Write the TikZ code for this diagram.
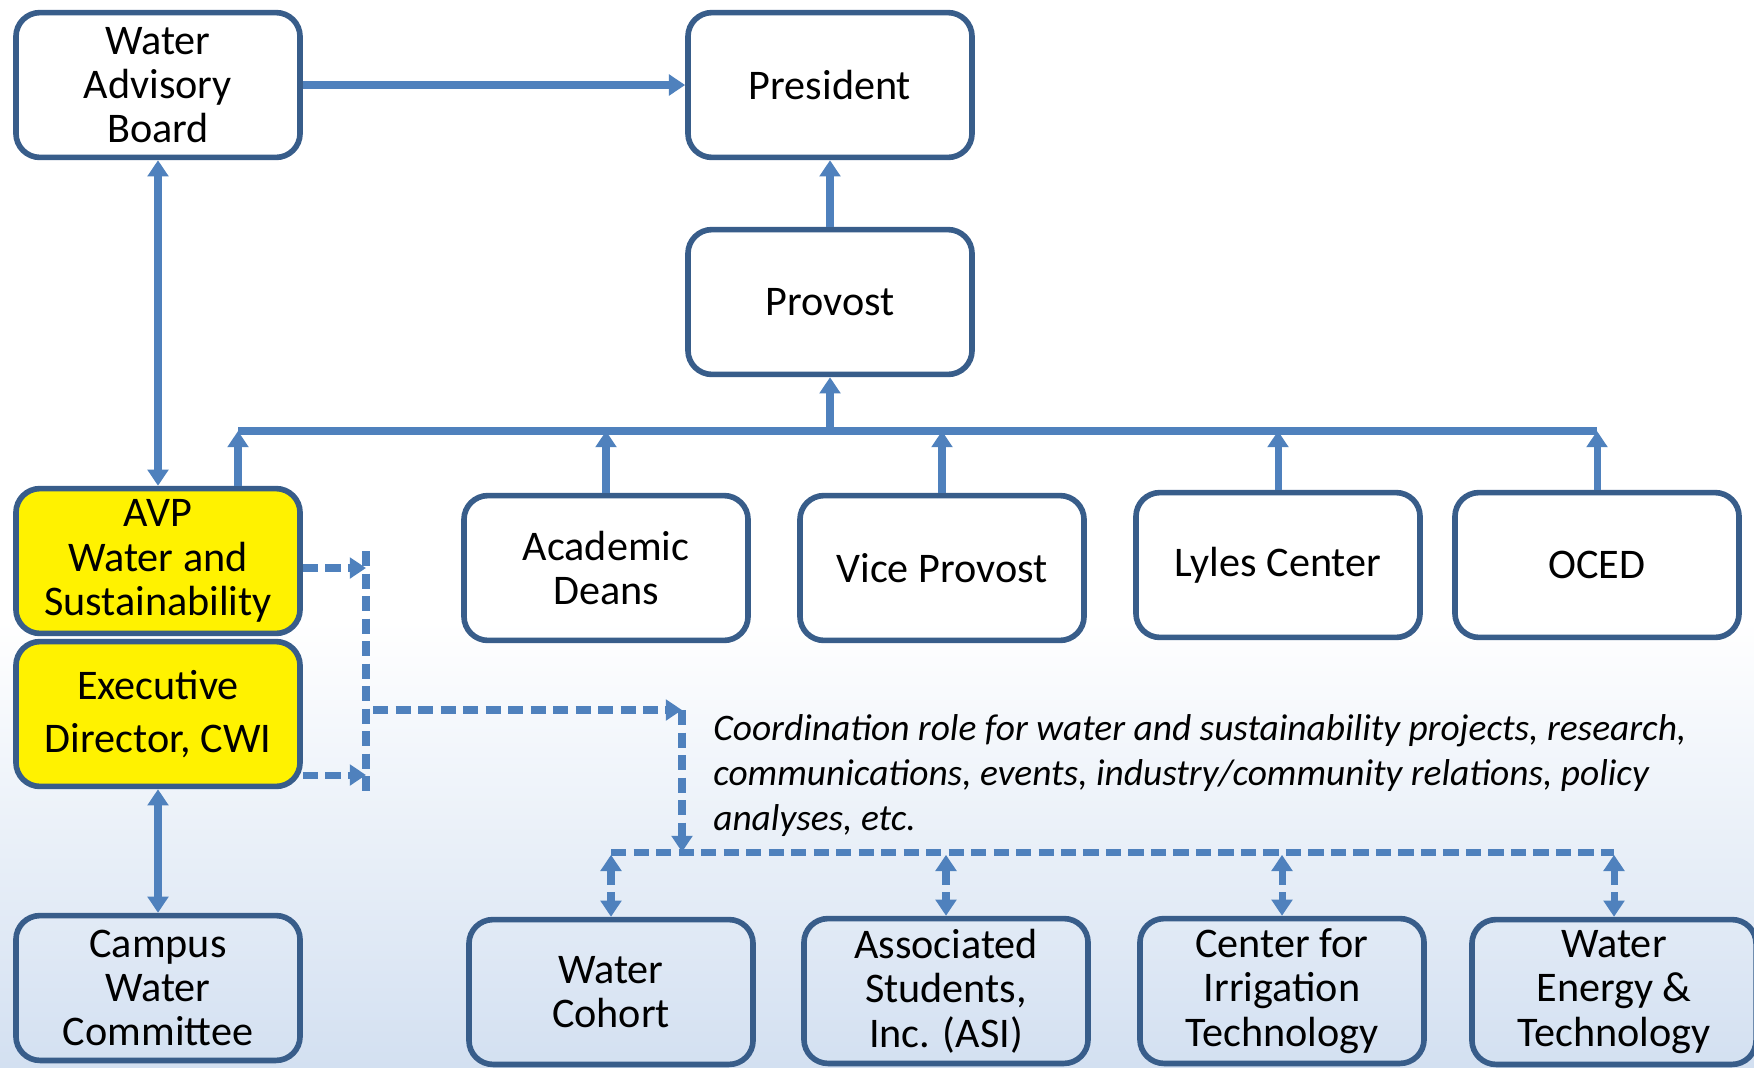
\documentclass[tikz,border=0pt]{standalone}
\usepackage{fontspec}
\setmainfont{Carlito}
\usetikzlibrary{arrows.meta,calc}
\definecolor{boxline}{RGB}{56,93,138}
\definecolor{linkblue}{RGB}{79,129,189}
\definecolor{bgblue}{RGB}{211,224,241}

\begin{document}
\begin{tikzpicture}[x=0.025cm, y=-0.025cm,
	unit/.style={draw=boxline, line width=4pt, rounded corners=0.6cm, minimum width=7.1cm, minimum height=3.62cm, align=center, inner sep=0pt, font=\fontsize{30}{31.5}\selectfont},
	lead/.style={unit, fill=yellow},
	link/.style={draw=linkblue, line width=5pt},
	tip/.style={-{Triangle[width=14.5pt,length=11.5pt]}},
	tips/.style={{Triangle[width=14.5pt,length=11.5pt]}-{Triangle[width=14.5pt,length=11.5pt]}},
	dlink/.style={link, dash pattern=on 11pt off 5pt}]
	\useasboundingbox (0,0) rectangle (1754,1067);
	\fill[white] (0,0) rectangle (1754,1067);
	\shade[top color=white, bottom color=bgblue] (0,620) rectangle (1754,1067);

	% top row
	\node[unit] (wab)at(158,85) {Water\\Advisory\\Board};
	\node[unit] (pres)at(830,85) {President};
	\node[unit] (prov)at(830,302) {Provost};

	% middle row
	\node[lead] (avp)at(158,561) {AVP\\Water and\\Sustainability};
	\node[lead] (exd)at(158,714) {Executive\\[6pt]Director, CWI};
	\node[unit] (deans)at(606,568) {Academic\\Deans};
	\node[unit] (vp)at(942,568) {Vice Provost};
	\node[unit] (lyles)at(1278,565) {Lyles Center};
	\node[unit] (oced)at(1597,565) {OCED};

	% bottom row
	\node[unit] (cwc)at(158,988) {Campus\\Water\\Committee};
	\node[unit] (cohort)at(611,992) {Water\\Cohort};
	\node[unit] (asi)at(946,991) {Associated\\Students,\\Inc. (ASI)};
	\node[unit] (cit)at(1282,991) {Center for\\Irrigation\\Technology};
	\node[unit] (wet)at(1614,992) {Water\\Energy \&\\Technology};

	\node[anchor=north west, align=left, inner sep=0pt, font=\fontsize{26.6}{32}\selectfont\itshape] (note)at(713,714) {Coordination role for water and sustainability projects, research,\\communications, events, industry/community relations, policy\\analyses, etc.};

	% reporting lines
	\coordinate (busl)at(238,431);
	\draw[link, tip] (wab.east) -- (pres.west);
	\draw[link, tip] (prov.north) -- (pres.south);
	\draw[link] (busl) -- (oced.north |- busl);
	\draw[link, tip] (prov.south |- busl) -- (prov.south);
	\draw[link, tip] (busl |- avp.north) -- (busl);
	\foreach \n in {deans, vp, lyles, oced}
		\draw[link, tip] (\n.north) -- (\n.north |- busl);
	\draw[link, tips] (wab.south) -- (avp.north);
	\draw[link, tips] (exd.south) -- (cwc.north);

	% coordination lines
	\coordinate (dtop)at(366,551);
	\coordinate (dbot)at(366,797);
	\coordinate (avpout)at($(avp.east)+(0,7)$);
	\coordinate (exdout)at($(exd.east)+(0,61)$);
	\coordinate (dmid)at(373,710);
	\coordinate (dturn)at(682,710);
	\coordinate (dbus)at(682,852);
	\draw[dlink] (dtop) -- (dbot);
	\draw[dlink, tip] (avpout) -- (avpout -| dtop);
	\draw[dlink, tip] (exdout) -- (exdout -| dtop);
	\draw[dlink, tip] (dmid) -- (dturn);
	\draw[dlink, tip] (dturn) -- (dbus);
	\draw[dlink] (cohort.north |- dbus) -- (wet.north |- dbus);
	\foreach \n in {cohort, asi, cit, wet}
		\draw[dlink, tips, shorten <=2pt] (\n.north |- dbus) -- (\n.north);
\end{tikzpicture}
\end{document}
